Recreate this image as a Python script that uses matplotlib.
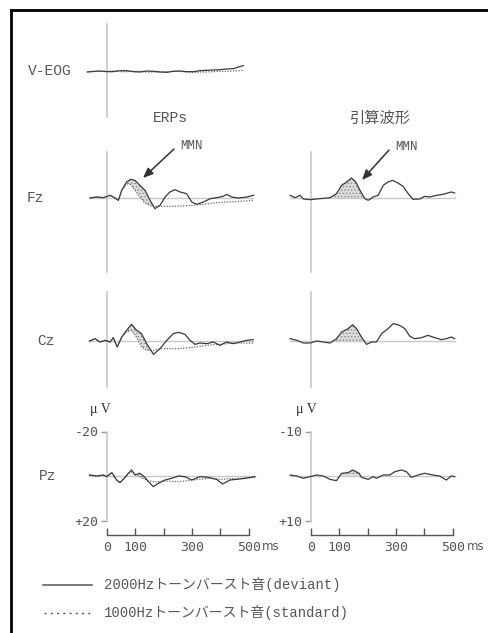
import numpy as np
import matplotlib
matplotlib.use('Agg')
import matplotlib.pyplot as plt
from matplotlib.lines import Line2D

# ---- data (µV, negative plotted upward) ----
veog_t = [-69, -47, -25, 0, 22, 45, 69, 93, 116, 140, 164, 187, 211, 234, 258, 281, 305, 328, 352, 375, 399, 422, 446, 464, 481]
veog_dev = [0.45, 0.15, 0, 0.3, 0.3, -0.15, -0.15, 0.3, 0.45, 0, 0.15, 0.45, 0.6, 0.15, 0, 0.3, 0.3, -0.15, -0.3, -0.45, -0.6, -0.9, -1.05, -1.8, -2.4]
veog_std = [0.3, 0.3, 0.15, 0.15, 0, 0.3, 0.3, 0.15, 0.15, 0.45, 0.45, 0.3, 0.3, 0.15, 0.15, 0.45, 0.6, 0.45, 0.45, 0.3, 0.15, 0.15, 0, -0.15, -0.3]

fz_t = [-60, -36, -13, 11, 22, 40, 52, 69, 84, 99, 116, 134, 152, 169, 187, 205, 222, 240, 258, 281, 299, 317, 340, 364, 387, 411, 422, 440, 464, 493, 517]
fz_dev = [0, -0.45, -0.15, -1.2, -0.45, 1.05, -3.45, -7.2, -8.4, -7.9, -5.7, -3.45, 1.05, 4.8, 3.3, -0.45, -2.7, -3.75, -2.7, -1.95, 1.8, 2.85, 1.8, 0.3, -0.15, -0.75, -1.65, -0.45, 0, -0.45, -1.2]
fz_std = [0, -0.45, -0.15, -1.2, -0.45, 1.05, -3.3, -6.5, -6.0, -3.45, -0.45, 2.25, 3.45, 3.75, 3.75, 3.75, 3.75, 3.7, 3.6, 3.4, 3.3, 3.1, 2.85, 2.4, 2.1, 1.9, 1.8, 1.7, 1.5, 1.3, 1.05]

cz_t = [-62, -42, -25, -7, 11, 22, 36, 52, 69, 87, 102, 122, 140, 164, 187, 211, 234, 252, 275, 293, 311, 328, 352, 375, 399, 422, 446, 469, 493, 516]
cz_dev = [0, -1.05, 0.45, -0.3, 0.45, -1.5, 2.7, -1.8, -4.8, -7.5, -5.1, -3.3, 1.2, 6.0, 3.45, -0.3, -3.3, -3.9, -3.0, -0.3, 1.5, 0.9, 1.2, 0.45, 1.95, 0.45, 1.2, 0.45, -0.3, -0.6]
cz_std = [0, -1.05, 0.45, -0.3, 0.45, -1.5, 2.7, -1.8, -4.05, -4.8, -2.1, 2.7, 4.2, 4.2, 3.6, 3.45, 3.45, 3.45, 3.15, 3.0, 2.7, 2.4, 1.95, 1.65, 1.5, 1.2, 0.9, 0.9, 0.9, 0.9]

pz_t = [-62, -36, -13, -1, 17, 34, 46, 64, 75, 87, 99, 116, 134, 146, 164, 181, 205, 228, 252, 275, 299, 328, 358, 387, 408, 434, 458, 487, 522]
pz_dev = [-0.45, 0, -0.45, 0.3, -1.5, 1.8, 3.0, 0.6, -1.2, -2.7, -0.45, -1.2, 0.6, 2.55, 4.8, 3.3, 1.8, 1.05, 0, 0.3, 1.8, 0.3, 0.6, 1.5, 3.6, 1.8, 1.5, 1.05, 0.3]
pz_std = [-0.45, 0, -0.45, 0.3, -1.5, 1.8, 3.0, 0.6, -1.0, -1.95, -0.9, 0.3, 1.5, 2.1, 2.55, 2.55, 2.25, 2.4, 2.55, 2.25, 1.8, 1.5, 1.05, 1.35, 1.5, 1.2, 1.2, 0.9, 0.6]

dfz_t = [-74, -56, -39, -27, -4, 32, 67, 90, 108, 126, 143, 158, 173, 190, 202, 219, 237, 255, 272, 288, 307, 325, 343, 360, 384, 401, 419, 443, 466, 495, 507]
dfz = [-0.6, -0.07, -0.6, 0.22, 0.37, 0.15, -0.07, -0.97, -2.85, -3.6, -4.5, -3.6, -1.72, 0.15, 0.52, -0.22, -0.6, -2.85, -3.6, -3.97, -3.37, -2.62, -0.97, 0.3, 0.22, -0.37, -0.22, -0.6, -0.82, -1.35, -1.12]

dcz_t = [-74, -50, -27, -4, 20, 43, 67, 90, 108, 131, 147, 161, 178, 196, 214, 231, 249, 272, 290, 313, 331, 349, 366, 390, 413, 437, 460, 478, 495, 507]
dcz = [-0.52, -0.15, 0.45, 0.45, 0, 0.22, 0.45, -0.52, -2.0, -2.77, -3.67, -2.77, -0.9, 0.75, 0.22, 0.22, -1.65, -2.77, -3.9, -3.52, -2.77, -1.05, -0.52, -0.75, -1.27, -0.75, -0.3, -0.52, -0.9, -0.52]

dpz_t = [-74, -50, -27, -4, 20, 43, 67, 90, 108, 131, 147, 170, 178, 202, 219, 231, 255, 278, 296, 319, 337, 354, 378, 401, 431, 454, 478, 495, 507]
dpz = [-0.22, 0, 0.52, 0.15, -0.22, 0, 0.75, 1.05, -0.6, -0.75, -1.35, -0.6, 0.3, 0.75, 0.15, 0.52, -0.22, -0.22, -0.97, -1.35, -0.97, 0.3, -0.22, -0.6, -0.22, 0, 0.9, 0, 0.15]

time_ticks = [0, 100, 200, 300, 400, 500]
time_labels = ['0', '100', '', '300', '', '500']

# ---- layout (pixels) ----
W, H = 489, 633
PX_MS = 0.2833
TXT = '#555555'
TRACE = '#3a3a3a'
LIGHT = '#c8c8c8'
MONO = 'Liberation Mono'

fig = plt.figure(figsize=(W / 100, H / 100), dpi=100)
plt.rcParams['hatch.linewidth'] = 0.6


def fx(x):
    return x / W


def fy(y):
    return 1 - y / H


def panel(zero_x, base_y, px_uv, x0, x1, y0, y1):
    ax = fig.add_axes([fx(x0), fy(y1), (x1 - x0) / W, (y1 - y0) / H])
    ax.set_xlim((x0 - zero_x) / PX_MS, (x1 - zero_x) / PX_MS)
    ax.set_ylim((y1 - base_y) / px_uv, (y0 - base_y) / px_uv)
    ax.patch.set_alpha(0)
    for s in ['top', 'right', 'bottom']:
        ax.spines[s].set_visible(False)
    ax.spines['left'].set_position(('data', 0))
    ax.spines['left'].set_color(LIGHT)
    ax.spines['left'].set_linewidth(1.2)
    ax.set_xticks([])
    ax.set_yticks([])
    return ax


def baseline(ax, t):
    ax.plot([t[0], t[-1]], [0, 0], color=LIGHT, lw=1.0, zorder=1)


def stipple(ax, t, a, b, where):
    ax.fill_between(t, a, b, where=where, interpolate=True, facecolor='#dcdcdc',
                    edgecolor='#8a8a8a', hatch='.....', linewidth=0, zorder=2)


def time_axis(ax, unit_x):
    ax.spines['bottom'].set_visible(True)
    ax.spines['bottom'].set_bounds(0, 500)
    ax.spines['bottom'].set_color(TXT)
    ax.spines['bottom'].set_linewidth(1.0)
    ax.set_xticks(time_ticks)
    ax.set_xticklabels(time_labels, fontfamily='DejaVu Sans Mono', fontsize=9.5, color=TXT)
    ax.tick_params(axis='x', direction='in', length=5, width=1, color=TXT, pad=4)
    fig.text(fx(unit_x), fy(547), 'ms', fontsize=8.5, color=TXT, va='center', ha='left',
             fontfamily='DejaVu Sans')


def uv_axis(ax, lim, labels):
    ax.spines['left'].set_bounds(-lim, lim)
    ax.set_yticks([-lim, lim])
    ax.set_yticklabels(labels, fontfamily='DejaVu Sans Mono', fontsize=9.5, color=TXT)
    ax.tick_params(axis='y', direction='out', length=4, width=1, color='#999999', pad=2)


dev_kw = dict(color=TRACE, lw=0.9, zorder=3)
std_kw = dict(color='#666666', lw=0.9, ls=(0, (1, 1.2)), zorder=3)

# V-EOG
ax = panel(107, 71, 2.225, 80, 262, 24, 117)
ax.plot(veog_t, veog_std, **std_kw)
ax.plot(veog_t, veog_dev, **dev_kw)

# ERPs column
for t, dev, std, base, y0, y1 in [(fz_t, fz_dev, fz_std, 198, 152, 272),
                                  (cz_t, cz_dev, cz_std, 341, 292, 387),
                                  (pz_t, pz_dev, pz_std, 476, 400, 535)]:
    ax = panel(107, base, 2.225, 80, 262, y0, y1)
    tt, d, s = np.array(t), np.array(dev), np.array(std)
    baseline(ax, t)
    stipple(ax, tt, d, s, (d < s) & (tt > 55) & (tt < 200))
    ax.plot(t, std, **std_kw)
    ax.plot(t, dev, **dev_kw)
    if base == 476:
        uv_axis(ax, 20, ['-20', '+20'])
        time_axis(ax, 262)

# difference waves column
for t, diff, base, y0, y1 in [(dfz_t, dfz, 198, 152, 272),
                              (dcz_t, dcz, 341, 292, 387),
                              (dpz_t, dpz, 476, 400, 535)]:
    ax = panel(311, base, 4.45, 285, 470, y0, y1)
    tt, d = np.array(t), np.array(diff)
    baseline(ax, t)
    stipple(ax, tt, d, np.zeros_like(d), (d < 0) & (tt > 85) & (tt < 200))
    ax.plot(t, diff, **dev_kw)
    if base == 476:
        uv_axis(ax, 10, ['-10', '+10'])
        time_axis(ax, 467)

# ---- labels ----
lab = dict(fontfamily=MONO, fontsize=10.5, color=TXT, va='center')
fig.text(fx(28), fy(71), 'V-EOG', ha='left', **lab)
fig.text(fx(27), fy(198), 'Fz', ha='left', **lab)
fig.text(fx(37), fy(341), 'Cz', ha='left', **lab)
fig.text(fx(39), fy(476), 'Pz', ha='left', **lab)
fig.text(fx(170), fy(118), 'ERPs', ha='center', **lab)
fig.text(fx(380), fy(118), '引算波形', ha='center', va='center', color=TXT,
         fontsize=11, fontfamily=['Noto Sans CJK JP'])

for xt, yt, xh, yh in [(192, 146, 143, 178), (407, 147, 362, 180)]:
    fig.text(fx(xt), fy(yt), 'MMN', ha='center', va='center', fontfamily=MONO,
             fontsize=9, color=TXT)
    fig.add_artist(plt.Annotation('', xy=(fx(xh), fy(yh)), xytext=(fx(xt - 18), fy(yt + 3)),
                                  xycoords='figure fraction', textcoords='figure fraction',
                                  arrowprops=dict(arrowstyle='-|>,head_length=0.6,head_width=0.25',
                                                  color='#333333', lw=1.1, shrinkA=0, shrinkB=0)))

for x, y in [(100, 410), (306, 409)]:
    fig.text(fx(x), fy(y), 'μ V', ha='center', va='center', fontfamily='Liberation Serif',
             fontsize=10, color='#333333')

# ---- legend ----
leg = dict(fontsize=10, color=TXT, va='center', ha='left',
           fontfamily=['Liberation Mono', 'Noto Sans CJK JP'])
fig.add_artist(Line2D([fx(43), fx(92)], [fy(585), fy(585)], color='#555555', lw=1.1))
fig.add_artist(Line2D([fx(44), fx(91)], [fy(613), fy(613)], color='#555555', lw=1.0,
                      ls=(0, (1.5, 3))))
fig.text(fx(104), fy(585), '2000Hzトーンバースト音(deviant)', **leg)
fig.text(fx(104), fy(613), '1000Hzトーンバースト音(standard)', **leg)

# frame lines
fig.add_artist(Line2D([fx(11), 1], [fy(10), fy(10)], color='black', lw=2))
fig.add_artist(Line2D([fx(11), fx(11)], [fy(10), 0], color='black', lw=2))

fig.savefig('out.png', dpi=100)
